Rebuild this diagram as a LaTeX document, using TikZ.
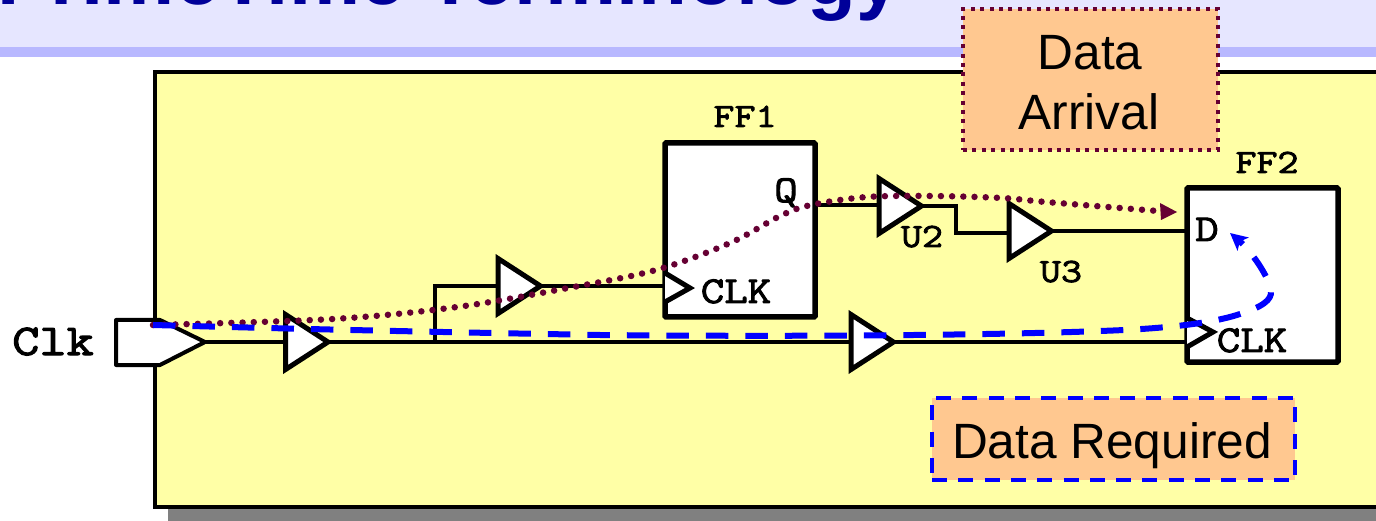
\documentclass[tikz,border=0pt]{standalone}
\usepackage{fontspec}
\setmainfont{Liberation Sans}
\newfontfamily\cour[FakeStretch=1.2,FakeBold=2.5]{Latin Modern Mono}
\usetikzlibrary{shapes.geometric,arrows.meta}
\definecolor{hdr}{HTML}{E6E6FF}
\definecolor{hdrb}{HTML}{B8B8FF}
\definecolor{panelc}{HTML}{FFFFA6}
\definecolor{orangec}{HTML}{FFC890}
\definecolor{titlec}{HTML}{000099}
\definecolor{arrivalc}{HTML}{660033}
\definecolor{reqc}{HTML}{0000FF}
\tikzset{
  x=1pt,y=-1pt,
  wire/.style={draw=black,line width=3.5pt,line join=miter},
  buf/.style={draw=black,fill=white,line width=5pt,isosceles triangle,isosceles triangle stretches,
     minimum width=55pt,minimum height=42.5pt,inner sep=0pt,outer sep=0pt,anchor=lower side,miter limit=10},
  ffbox/.style={draw=black,fill=white,line width=5.5pt,rectangle,inner sep=0pt,outer sep=0pt,rounded corners=1pt,anchor=north west},
  mono/.style={font=\cour\fontsize{34}{34}\selectfont,inner sep=0pt,anchor=base},
  callout/.style={font=\fontsize{49.6}{60}\selectfont,inner sep=0pt,anchor=base,text=black},
  arrivalpath/.style={draw=arrivalc,line width=6.5pt,line cap=round,dash pattern=on 0pt off 11.2pt},
  reqpath/.style={draw=reqc,line width=6pt,dash pattern=on 22.5pt off 17pt},
}
\begin{document}
\begin{tikzpicture}
\useasboundingbox (0,0) rectangle (1376,521);
\clip (0,0) rectangle (1376,521);
% header band
\fill[hdr] (0,0) rectangle (1376,47);
\fill[hdrb] (0,47) rectangle (1376,57);
\node[font=\bfseries\fontsize{80}{80}\selectfont,text=titlec,inner sep=0pt,anchor=base west] (title) at (-3,5) {PrimeTime Terminology};
% panel
\fill[gray] (168,490) rectangle (1400,521);
\node[draw=black,fill=panelc,line width=3.5pt,rectangle,inner sep=0pt,outer sep=0pt,minimum width=1300pt,minimum height=435pt,anchor=north west] (panel) at (155,72) {};
% Clk pin
\coordinate (pintip) at (205,342);
\filldraw[draw=black,fill=white,line width=4pt,line join=round] (116,320) -- (160,320) -- (pintip) -- (160,365) -- (116,365) -- cycle;
\node[mono,font=\cour\fontsize{44}{44}\selectfont] (clk) at (53,355) {Clk};
% flip flops
\node[ffbox,minimum width=150pt,minimum height=174pt] (ff1) at (665,143) {};
\node[ffbox,minimum width=151pt,minimum height=174pt] (ff2) at (1187,188) {};
\filldraw[draw=black,fill=white,line width=5pt] (665,273) -- (690,288) -- (665,302);
\filldraw[draw=black,fill=white,line width=5pt] (1187,318) -- (1213,332) -- (1187,347);
\coordinate (ff1clk) at (665,286);
\coordinate (ff2clk) at (1187,342);
\coordinate (ff1q) at (815,205);
\coordinate (ff2d) at (1187,231);
% buffers
\node[buf] (b1) at (285.5,342) {};
\node[buf] (b2) at (498,286) {};
\node[buf] (b3) at (851,342) {};
\node[buf] (u2) at (879,206) {};
\node[buf] (u3) at (1009,231) {};
% wires
\coordinate (fork) at (435,342);
\coordinate (forktop) at (435,286);
\coordinate (bend1) at (956,206);
\coordinate (bend2) at (956,233);
\draw[wire] (pintip) -- (b1.lower side);
\draw[wire] (b1.apex) -- (b3.lower side);
\draw[wire] (b3.apex) -- (ff2clk);
\draw[wire] (fork) -- (forktop) -- (b2.lower side);
\draw[wire] (b2.apex) -- (ff1clk);
\draw[wire] (ff1q) -- (ff1q -| u2.lower side);
\draw[wire] (u2.apex) -- (bend1) -- (bend2) -- (bend2 -| u3.lower side);
\draw[wire] (u3.apex) -- (ff2d);
% labels
\node[mono] (ff1l) at (745,127) {FF1};
\node[mono] (ff2l) at (1267,173) {FF2};
\node[mono] (u2l) at (922,247) {U2};
\node[mono] (u3l) at (1061,282) {U3};
\node[mono,font=\cour\fontsize{38}{38}\selectfont] (ql) at (786,202) {Q};
\node[mono,font=\cour\fontsize{38}{38}\selectfont] (dl) at (1207,241) {D};
\node[mono,font=\cour\fontsize{38}{38}\selectfont] (clk1) at (736,303) {CLK};
\node[mono,font=\cour\fontsize{38}{38}\selectfont] (clk2) at (1252,352) {CLK};
% callouts
\node[draw=arrivalc,fill=orangec,line width=4pt,dash pattern=on 4pt off 5.4pt,rectangle,inner sep=0pt,outer sep=0pt,minimum width=255pt,minimum height=141pt,anchor=north west] (arrivalbox) at (963,9) {};
\node[callout] (arr1) at (1090,70) {Data};
\node[callout] (arr2) at (1089,130) {Arrival};
\node[draw=reqc,fill=orangec,line width=4pt,dash pattern=on 15pt off 11.3pt,rectangle,inner sep=0pt,outer sep=0pt,minimum width=363pt,minimum height=82pt,anchor=north west] (reqbox) at (932,398) {};
\node[callout] (req) at (1112,458) {Data Required};
% timing paths
\coordinate (pstart) at (153,325);
\coordinate (arrEnd) at (1177,212);
\coordinate (reqEnd) at (1230,233);
\draw[arrivalpath] plot[smooth,tension=0.55] coordinates {(pstart) (333,319) (457,307) (568,288) (656,270) (730,243) (780,216) (811,205) (867,197) (933,196) (1002,198) (1046,202) (1158,211)};
\fill[arrivalc] (arrEnd) -- (1160,203) -- (1161,220) -- cycle;
\draw[reqpath,-{Stealth[length=17pt,width=17pt,inset=4pt]}] (pstart) .. controls (300,329) and (430,332) .. (600,335) .. controls (800,337) and (1000,335) .. (1100,331) .. controls (1160,329) and (1210,324) .. (1240,314) .. controls (1262,307) and (1272,300) .. (1271,291) .. controls (1269,276) and (1250,250) .. (reqEnd);
\end{tikzpicture}
\end{document}
